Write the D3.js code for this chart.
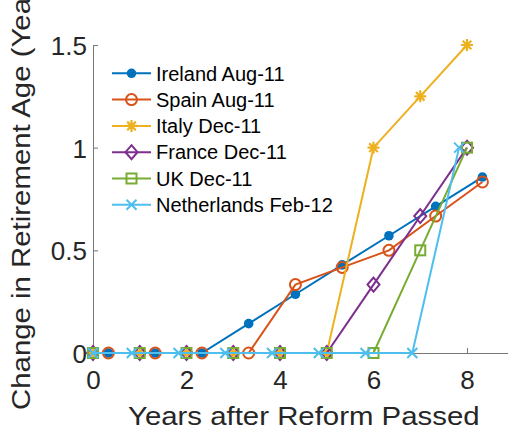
<!DOCTYPE html>
<html><head><meta charset="utf-8">
<script src="https://cdn.jsdelivr.net/npm/d3@7"></script>
<style>html,body{margin:0;padding:0;background:#fff;overflow:hidden}</style>
</head><body>
<script>
const seriesNames = ["Ireland Aug-11","Spain Aug-11","Italy Dec-11","France Dec-11","UK Dec-11","Netherlands Feb-12"];
const irelandX = [0.33,1.33,2.33,3.33,4.33,5.33,6.33,7.33,8.33];
const irelandY = [0,0,0,0.143,0.286,0.429,0.571,0.714,0.857];
const spainX = [0.33,1.33,2.33,3.33,4.33,5.33,6.33,7.33,8.33];
const spainY = [0,0,0,0,0.333,0.417,0.5,0.667,0.833];
const italyX = [0,1,2,3,4,5,6,7,8];
const italyY = [0,0,0,0,0,0,1,1.25,1.5];
const franceX = [0,1,2,3,4,5,6,7,8];
const franceY = [0,0,0,0,0,0,0.333,0.667,1];
const ukX = [0,1,2,3,4,5,6,7,8];
const ukY = [0,0,0,0,0,0,0,0.5,1];
const nlX = [0,0.83,1.83,2.83,3.83,4.83,5.83,6.83,7.83];
const nlY = [0,0,0,0,0,0,0,0,1];
const xTicks = [0,2,4,6,8];
const yTicks = [0,0.5,1,1.5];
const yTickLabels = ["0","0.5","1","1.5"];

const colors = ["#0072BD","#D95319","#EDB120","#7E2F8E","#77AC30","#4DBEEE"];
const markers = ["dot","circle","star","diamond","square","cross"];
const xsAll = [irelandX,spainX,italyX,franceX,ukX,nlX];
const ysAll = [irelandY,spainY,italyY,franceY,ukY,nlY];

const W=508,H=433;
const svg = d3.select("body").append("svg").attr("width",W).attr("height",H)
  .style("font-family","'Liberation Sans', Arial, sans-serif");
svg.append("rect").attr("width",W).attr("height",H).attr("fill","#fff");

const x = d3.scaleLinear().domain([0,9]).range([93,513.75]);
const y = d3.scaleLinear().domain([0,1.5]).range([353,45]);

// axes
const axCol="#777";
const gx = svg.append("g").attr("transform",`translate(0,${y(0)})`)
  .call(d3.axisBottom(x).tickValues(xTicks).tickSizeInner(-5).tickSizeOuter(0).tickFormat(d3.format("d")));
gx.select(".domain").attr("stroke",axCol);
gx.selectAll(".tick line").attr("stroke",axCol);
gx.selectAll(".tick text").attr("font-size",26).attr("fill","#262626").attr("dy",null).attr("y",36);

const gy = svg.append("g").attr("transform",`translate(${x(0)},0)`)
  .call(d3.axisLeft(y).tickValues(yTicks).tickSizeInner(-5).tickSizeOuter(0).tickFormat((d,i)=>yTickLabels[i]));
gy.select(".domain").attr("stroke",axCol);
gy.selectAll(".tick line").attr("stroke",axCol);
gy.selectAll(".tick text").attr("font-size",26).attr("fill","#262626").attr("dy",null).attr("x",-6).attr("y",9.5);

// labels
svg.append("text").attr("transform",`translate(128,425) scale(1.13,1)`)
  .attr("text-anchor","start").attr("font-size",26).attr("fill","#262626").text("Years after Reform Passed");
svg.append("text").attr("transform",`translate(30,410) rotate(-90) scale(1.13,1)`)
  .attr("text-anchor","start").attr("font-size",26).attr("fill","#262626").text("Change in Retirement Age (Years)");

function drawMarker(g, type, cx, cy, col){
  const m = g.append("g").attr("transform",`translate(${cx},${cy})`);
  if(type==="dot") m.append("circle").attr("r",4.8).attr("fill",col);
  else if(type==="circle") m.append("circle").attr("r",5.5).attr("fill","none").attr("stroke",col).attr("stroke-width",2);
  else if(type==="diamond") m.append("path").attr("d","M0,-7L6,0L0,7L-6,0Z").attr("fill","none").attr("stroke",col).attr("stroke-width",2);
  else if(type==="square") m.append("rect").attr("x",-5).attr("y",-5).attr("width",10).attr("height",10).attr("fill","none").attr("stroke",col).attr("stroke-width",2);
  else if(type==="cross") m.append("path").attr("d","M-5,-5L5,5M-5,5L5,-5").attr("stroke",col).attr("stroke-width",2);
  else if(type==="star") m.append("path").attr("d","M-6,0L6,0M0,-6L0,6M-4.3,-4.3L4.3,4.3M-4.3,4.3L4.3,-4.3").attr("stroke",col).attr("stroke-width",2.2);
}

const line = d3.line().x(d=>x(d[0])).y(d=>y(d[1]));
seriesNames.forEach((name,i)=>{
  const pts = xsAll[i].map((v,j)=>[v,ysAll[i][j]]);
  const g = svg.append("g");
  g.append("path").attr("d",line(pts)).attr("fill","none").attr("stroke",colors[i]).attr("stroke-width",2);
  pts.forEach(p=>drawMarker(g,markers[i],x(p[0]),y(p[1]),colors[i]));
});

// legend
const lg = svg.append("g");
seriesNames.forEach((name,i)=>{
  const yy = 73.3 + i*26.3;
  lg.append("line").attr("x1",112).attr("x2",151).attr("y1",yy).attr("y2",yy).attr("stroke",colors[i]).attr("stroke-width",2);
  drawMarker(lg,markers[i],131.5,yy,colors[i]);
  lg.append("text").attr("x",156).attr("y",yy+7.2).attr("font-size",20).attr("fill","#000").text(name);
});
</script>
</body></html>
